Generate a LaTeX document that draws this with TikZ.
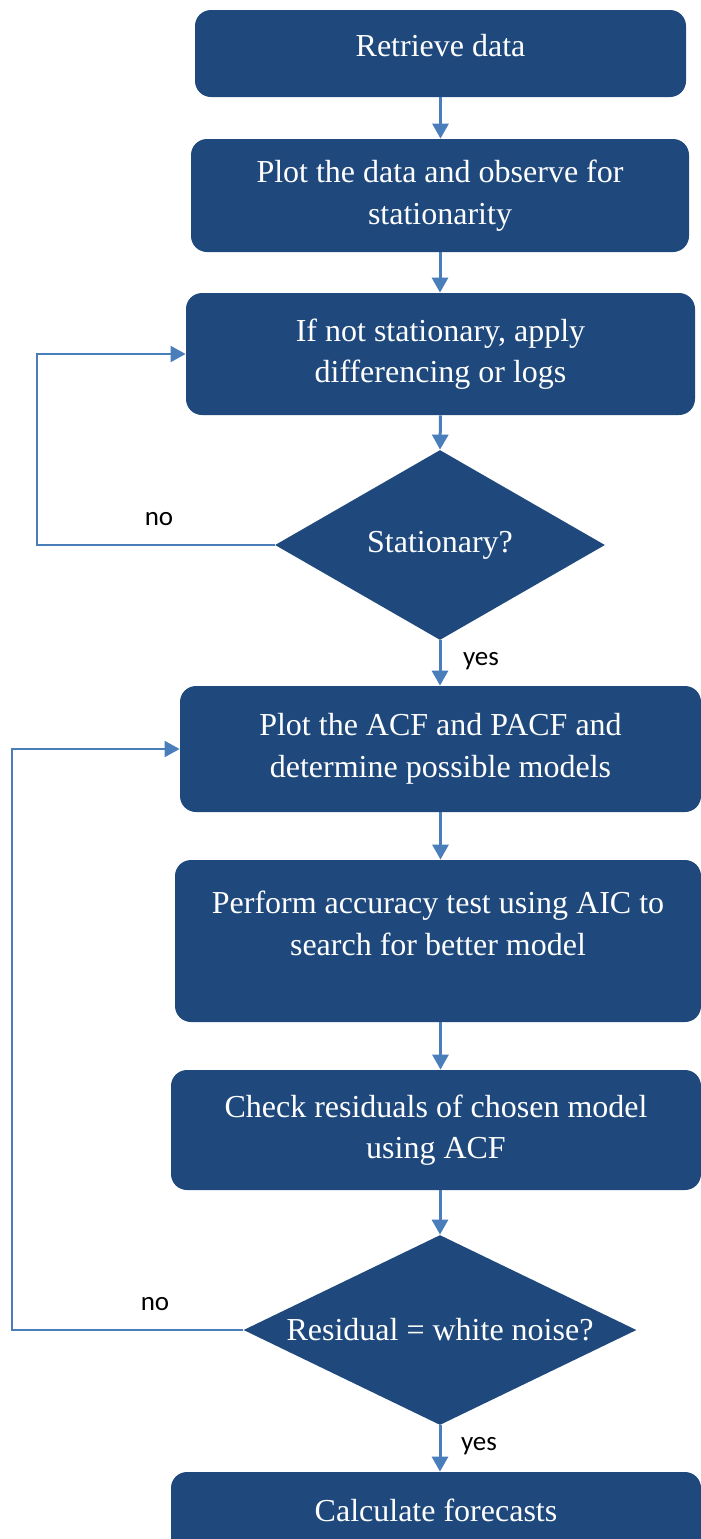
\documentclass[tikz,border=0pt]{standalone}
\usepackage{fontspec}
\setmainfont{Liberation Serif}
\newfontfamily\labelfont{Carlito}
\usepackage{xcolor}
\usepackage{tikz}
\usetikzlibrary{shapes.geometric, arrows.meta}
\definecolor{boxblue}{HTML}{1F497D}
\definecolor{flowblue}{HTML}{4A7EBB}
\tikzstyle{process} = [rectangle, rounded corners=8pt, fill=boxblue, text=white, align=center, inner sep=0pt, font=\fontsize{16}{20.8}\selectfont]
\tikzstyle{decision} = [diamond, fill=boxblue, text=white, inner sep=0pt, font=\fontsize{16}{20.8}\selectfont]
\tikzstyle{arrow} = [line width=1.5pt, draw=flowblue, -{Triangle[width=8pt,length=7.5pt]}]
\tikzstyle{feedback} = [line width=1pt, draw=flowblue, -{Triangle[width=8pt,length=7.5pt]}]
\tikzstyle{answer} = [font=\labelfont\fontsize{13.5}{16}\selectfont, text=black, inner sep=0pt]

\begin{document}
\begin{tikzpicture}[x=0.5pt, y=-0.5pt]
        \useasboundingbox (0,0) rectangle (701,1539);

        \node[process, minimum width=245.5pt, minimum height=43.5pt, text depth=8pt] (retrieve) at (440.5, 53.5) {Retrieve data};
        \node[process, minimum width=249pt, minimum height=56.5pt] (plotdata) at (440, 195.5) {Plot the data and observe for\\stationarity};
        \node[process, minimum width=254.5pt, minimum height=61pt] (difference) at (440.5, 354) {If not stationary, apply\\differencing or logs};
        \node[decision, aspect=1.74, minimum width=165pt, minimum height=95pt] (stationary) at (440, 545) {Stationary?};
        \node[process, minimum width=260.5pt, minimum height=63pt] (acf) at (440.5, 749) {Plot the ACF and PACF and\\determine possible models};
        \node[process, minimum width=263pt, minimum height=81pt, text depth=18pt] (aic) at (438, 941) {Perform accuracy test using AIC to\\search for better model};
        \node[process, minimum width=265pt, minimum height=60pt] (residuals) at (436, 1130) {Check residuals of chosen model\\using ACF};
        \node[decision, aspect=2.07, minimum width=196.5pt, minimum height=95pt] (whitenoise) at (440, 1330) {Residual = white noise?};
        \node[process, minimum width=265pt, minimum height=46pt, text depth=8pt] (forecast) at (436, 1518) {Calculate forecasts};

        \coordinate (back1) at (37, 545);
        \coordinate (back2) at (12, 1330);

        \node[answer] (no1) at (159, 519) {no};
        \node[answer] (yes1) at (481, 661) {yes};
        \node[answer] (no2) at (155, 1304) {no};
        \node[answer] (yes2) at (479, 1446) {yes};

        \draw[arrow] (retrieve.south) -- (retrieve.south |- plotdata.north);
        \draw[arrow] (plotdata.south) -- (plotdata.south |- difference.north);
        \draw[arrow] (difference.south) -- (stationary.north);
        \draw[arrow] (stationary.south) -- (stationary.south |- acf.north);
        \draw[arrow] (acf.south) -- (acf.south |- aic.north);
        \draw[arrow] (aic.south -| acf.south) -- (acf.south |- residuals.north);
        \draw[arrow] (residuals.south -| whitenoise.north) -- (whitenoise.north);
        \draw[arrow] (whitenoise.south) -- (whitenoise.south |- forecast.north);

        \draw[feedback] (stationary.west) -- (back1) |- (difference.west);
        \draw[feedback] (whitenoise.west) -- (back2) |- (acf.west);
    \end{tikzpicture}
\end{document}
